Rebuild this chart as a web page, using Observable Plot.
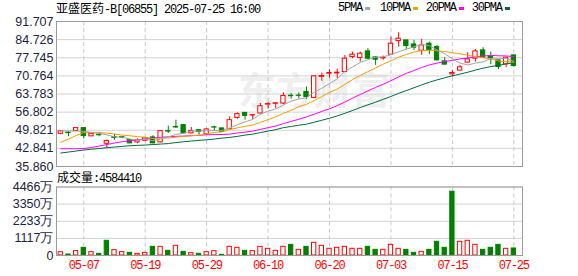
<!DOCTYPE html>
<html><head><meta charset="utf-8">
<script src="https://cdn.jsdelivr.net/npm/d3@7"></script>
<script src="https://cdn.jsdelivr.net/npm/@observablehq/plot@0.6"></script>
<style>
body{margin:0;background:#fff;}
#wrap{position:relative;width:578px;height:276px;overflow:hidden;font-family:"Noto Sans CJK SC",sans-serif;}
.abs{position:absolute;white-space:nowrap;}
.hdr{font-size:12px;line-height:14px;color:#000;}
.mono{font-family:"Liberation Mono",monospace;letter-spacing:-1.2px;}
.sq{position:absolute;width:5px;height:3px;}
#wm{left:238px;top:66px;font-size:38px;font-weight:bold;color:#efefef;line-height:44px;}
</style></head><body><div id="wrap"></div>
<script>
const dates = ["04-30","05-02","05-06","05-07","05-08","05-09","05-12","05-13","05-14","05-15","05-16","05-19","05-20","05-21","05-22","05-23","05-26","05-27","05-28","05-29","05-30","06-02","06-03","06-04","06-05","06-06","06-09","06-10","06-11","06-12","06-13","06-16","06-17","06-18","06-19","06-20","06-23","06-24","06-25","06-26","06-27","06-30","07-02","07-03","07-04","07-07","07-08","07-09","07-10","07-11","07-14","07-15","07-16","07-17","07-18","07-21","07-22","07-23","07-24","07-25"];
const open = [48.45,48.9,49.6,50.65,47.46,48.1,44.62,47.2,47.2,46.04,45.15,45.77,47.07,45.15,49.5,51.1,51.79,48.61,49.87,48.34,50.95,50.53,50.26,54.6,56.52,55.5,56.28,59.7,60.0,60.12,63.1,63.2,64.57,62.27,70.4,71.6,71.7,72.25,78.0,77.62,80.19,77.89,77.5,78.93,84.15,84.42,82.88,80.46,83.15,81.84,76.36,71.37,72.79,75.86,77.39,80.58,78.1,76.74,75.2,78.66];
const high = [49.45,49.3,50.85,50.7,48.5,49.0,46.04,48.3,47.5,46.1,46.54,46.9,47.69,49.6,51.41,53.7,51.8,50.91,49.9,50.5,51.4,50.6,54.98,56.52,56.6,55.7,60.12,60.5,60.3,64.19,63.96,64.2,66.49,70.86,71.87,73.17,73.4,78.66,79.93,79.93,81.23,78.0,78.4,85.68,87.37,84.5,84.42,84.8,83.76,82.5,77.77,72.9,74.82,79.69,80.96,81.6,79.93,76.8,77.9,78.7];
const low = [48.1,47.3,49.4,46.42,47.4,47.3,42.85,45.97,46.5,44.6,44.62,45.6,44.6,45.0,48.61,50.53,48.5,48.5,47.96,48.0,49.5,49.0,50.0,54.1,53.71,54.0,56.1,58.05,58.2,59.74,61.77,61.9,61.77,62.0,68.68,69.95,69.7,72.0,77.39,76.09,77.2,74.82,76.8,78.7,81.84,80.96,80.58,78.66,78.93,76.5,75.0,70.33,72.6,75.7,76.09,77.6,75.09,73.17,73.94,74.17];
const close = [49.4,48.7,50.65,47.58,48.46,47.9,45.66,46.9,47.0,44.77,46.04,46.69,44.77,49.49,49.3,50.9,48.61,49.49,49.2,50.14,50.85,49.2,53.71,56.02,55.36,55.65,59.09,59.9,60.2,63.04,62.95,63.1,62.66,70.6,70.7,71.9,72.0,77.39,78.93,79.31,77.39,77.0,77.7,83.15,85.07,82.23,81.6,82.5,80.58,76.74,75.09,71.87,74.05,77.12,80.19,77.77,77.6,74.17,77.77,74.55];
// volume in 万 shares
const volume = [218,65,283,501,218,109,959,349,218,174,109,174,566,566,305,632,240,153,109,218,283,44,566,501,305,283,566,436,305,566,697,370,566,828,632,436,501,566,436,436,566,370,370,697,436,370,174,240,370,894,501,4161,894,959,697,370,501,697,436,458.441];
const volUp = [1,0,1,0,1,0,0,1,1,0,1,1,0,1,0,1,0,1,0,1,1,0,1,1,0,1,1,1,1,1,0,1,0,1,1,1,1,1,1,1,0,0,1,1,1,0,0,1,0,0,0,0,1,1,1,0,0,0,1,0];
// moving-average values before enough closes are in view
const ma5Head = [49.5,49.5,49.5,49.4];
const ma10Head = [45.16,46.42,47.77,48.99,48.99,48.99,48.72,48.34,47.96];
const ma20Head = [42.70,42.70,42.70,42.78,43.16,43.73,44.31,44.89,45.39,45.77,46.12,46.43,46.81,47.08,47.31,47.46,47.58,47.73,47.89];
const ma30Head = [41.05,41.43,41.82,42.20,42.51,42.78,43.08,43.35,43.62,43.85,44.00,44.12,44.31,44.50,44.69,45.08,45.39,45.66,45.92,46.15,46.42,46.80,47.07,47.46,47.96,48.34,48.92,49.49,50.07];
const priceTicks = ["91.707","84.726","77.745","70.764","63.783","56.802","49.821","42.841","35.860"];
const volTicks = ["4466万","3350万","2233万","1117万","0"];
const dateTicks = ["05-07","05-19","05-29","06-10","06-20","07-03","07-15","07-25"];
const title = "亚盛医药-B[06855] 2025-07-25 16:00";
const legendNames = ["5PMA","10PMA","20PMA","30PMA"];
const lastVolume = "4584410";

const RED = "#ff0000", GREEN = "#008000";
const maColors = ["#a3a3a3","#f0a000","#ff00ff","#006b3c"];

function ma(n, head) {
  return close.map((c, i) => i < n - 1 ? head[i] : d3.mean(close.slice(i - n + 1, i + 1)));
}
const m5 = ma(5, ma5Head), m10 = ma(10, ma10Head), m20 = ma(20, ma20Head), m30 = ma(30, ma30Head);
const rows = dates.map((d, i) => ({i, date: d, o: open[i], h: high[i], l: low[i], c: close[i], v: volume[i],
  up: close[i] >= open[i], vup: volUp[i] === 1, m5: m5[i], m10: m10[i], m20: m20[i], m30: m30[i]}));
const upRows = rows.filter(d => d.up), dnRows = rows.filter(d => !d.up);
const tickIdx = dateTicks.map(t => dates.indexOf(t));
const priceVals = priceTicks.map(Number);
const priceLabel = new Map(priceVals.map((v, k) => [v, priceTicks[k]]));
const volVals = volTicks.map(t => parseFloat(t));
const volLabel = new Map(volVals.map((v, k) => [v, volTicks[k]]));
const xDomain = [-0.555, 60.13];
const hw = 0.28;
const axisFont = "Liberation Sans, Arial, sans-serif";
const labelColor = "#1c2440";

const wrap = document.getElementById("wrap");

// watermark
const wm = document.createElement("div");
wm.className = "abs"; wm.id = "wm"; wm.textContent = "东方财富";
wrap.appendChild(wm);

const main = Plot.plot({
  width: 578, height: 172, marginLeft: 56, marginRight: 56, marginTop: 21, marginBottom: 6,
  style: {background: "transparent", fontFamily: axisFont, fontSize: "12.5px"},
  x: {domain: xDomain, axis: null, label: null},
  y: {domain: [35.860, 91.707], axis: null, label: null},
  marks: [
    Plot.gridY(priceVals, {stroke: "#d2d2d2", strokeOpacity: 1}),
    Plot.ruleX(tickIdx, {stroke: "#c8c8c8", strokeDasharray: "4,3"}),
    Plot.axisY(priceVals, {tickSize: 0, tickPadding: 3, label: null, tickFormat: d => priceLabel.get(d), fill: labelColor, fontSize: 12.5}),
    Plot.ruleX(upRows, {x: "i", y1: "l", y2: "h", stroke: RED}),
    Plot.ruleX(dnRows, {x: "i", y1: "l", y2: "h", stroke: GREEN}),
    Plot.rect(upRows, {x1: d => d.i - hw, x2: d => d.i + hw, y1: "o", y2: "c", fill: "white", stroke: RED, strokeWidth: 1}),
    Plot.rect(dnRows, {x1: d => d.i - hw, x2: d => d.i + hw, y1: "o", y2: "c", fill: GREEN, stroke: GREEN, strokeWidth: 1}),
    Plot.line(rows, {x: "i", y: "m30", stroke: maColors[3], strokeWidth: 1}),
    Plot.line(rows, {x: "i", y: "m20", stroke: maColors[2], strokeWidth: 1}),
    Plot.line(rows, {x: "i", y: "m10", stroke: maColors[1], strokeWidth: 1}),
    Plot.line(rows, {x: "i", y: "m5", stroke: maColors[0], strokeWidth: 1}),
    Plot.frame({stroke: "#9a9a9a"})
  ]
});
main.style.position = "absolute"; main.style.left = "0px"; main.style.top = "0px";
wrap.appendChild(main);

const vol = Plot.plot({
  width: 578, height: 104, marginLeft: 56, marginRight: 56, marginTop: 14.5, marginBottom: 21,
  style: {background: "transparent", fontFamily: axisFont, fontSize: "12.5px"},
  x: {domain: xDomain, axis: null, label: null},
  y: {domain: [0, 4466], axis: null, label: null},
  marks: [
    Plot.gridY(volVals, {stroke: "#d2d2d2", strokeOpacity: 1}),
    Plot.ruleX(tickIdx, {stroke: "#c8c8c8", strokeDasharray: "4,3"}),
    Plot.axisY(volVals, {tickSize: 0, tickPadding: 3, label: null, tickFormat: d => volLabel.get(d), fill: labelColor, fontSize: 12.5}),
    Plot.axisX(tickIdx, {tickSize: 0, tickPadding: 5, label: null, tickFormat: i => dates[i], fill: RED,
      fontFamily: "Liberation Mono, monospace", fontSize: 12}),
    Plot.rectY(rows.filter(d => d.vup), {x1: d => d.i - hw, x2: d => d.i + hw, y: "v", fill: "white", stroke: RED, strokeWidth: 1}),
    Plot.rectY(rows.filter(d => !d.vup), {x1: d => d.i - hw, x2: d => d.i + hw, y: "v", fill: GREEN, stroke: GREEN, strokeWidth: 1}),
    Plot.frame({stroke: "#9a9a9a"})
  ]
});
vol.style.position = "absolute"; vol.style.left = "0px"; vol.style.top = "172px";
vol.querySelectorAll("text").forEach(t => { if (t.closest("g[aria-label='x-axis tick label']")) t.style.letterSpacing = "-1.2px"; });
wrap.appendChild(vol);

// title
function mixed(str) {
  return str.replace(/[\x00-\x7f]+/g, m => `<span class="mono">${m}</span>`);
}
const t = document.createElement("div");
t.className = "abs hdr"; t.style.left = "56px"; t.style.top = "1px";
t.innerHTML = mixed(title);
wrap.appendChild(t);

// legend
const legX = [338, 380, 425.7, 471.7];
const sqX = [365, 413, 459, 505];
legendNames.forEach((n, k) => {
  const e = document.createElement("div");
  e.className = "abs hdr mono"; e.style.left = legX[k] + "px"; e.style.top = "1px";
  e.textContent = n;
  wrap.appendChild(e);
  const s = document.createElement("div");
  s.className = "sq"; s.style.left = sqX[k] + "px"; s.style.top = "7px"; s.style.background = maColors[k];
  wrap.appendChild(s);
});

// volume label
const vl = document.createElement("div");
vl.className = "abs hdr"; vl.style.left = "57px"; vl.style.top = "170px";
vl.innerHTML = "成交量" + `<span class="mono">:${lastVolume}</span>`;
wrap.appendChild(vl);
</script>
</body></html>
